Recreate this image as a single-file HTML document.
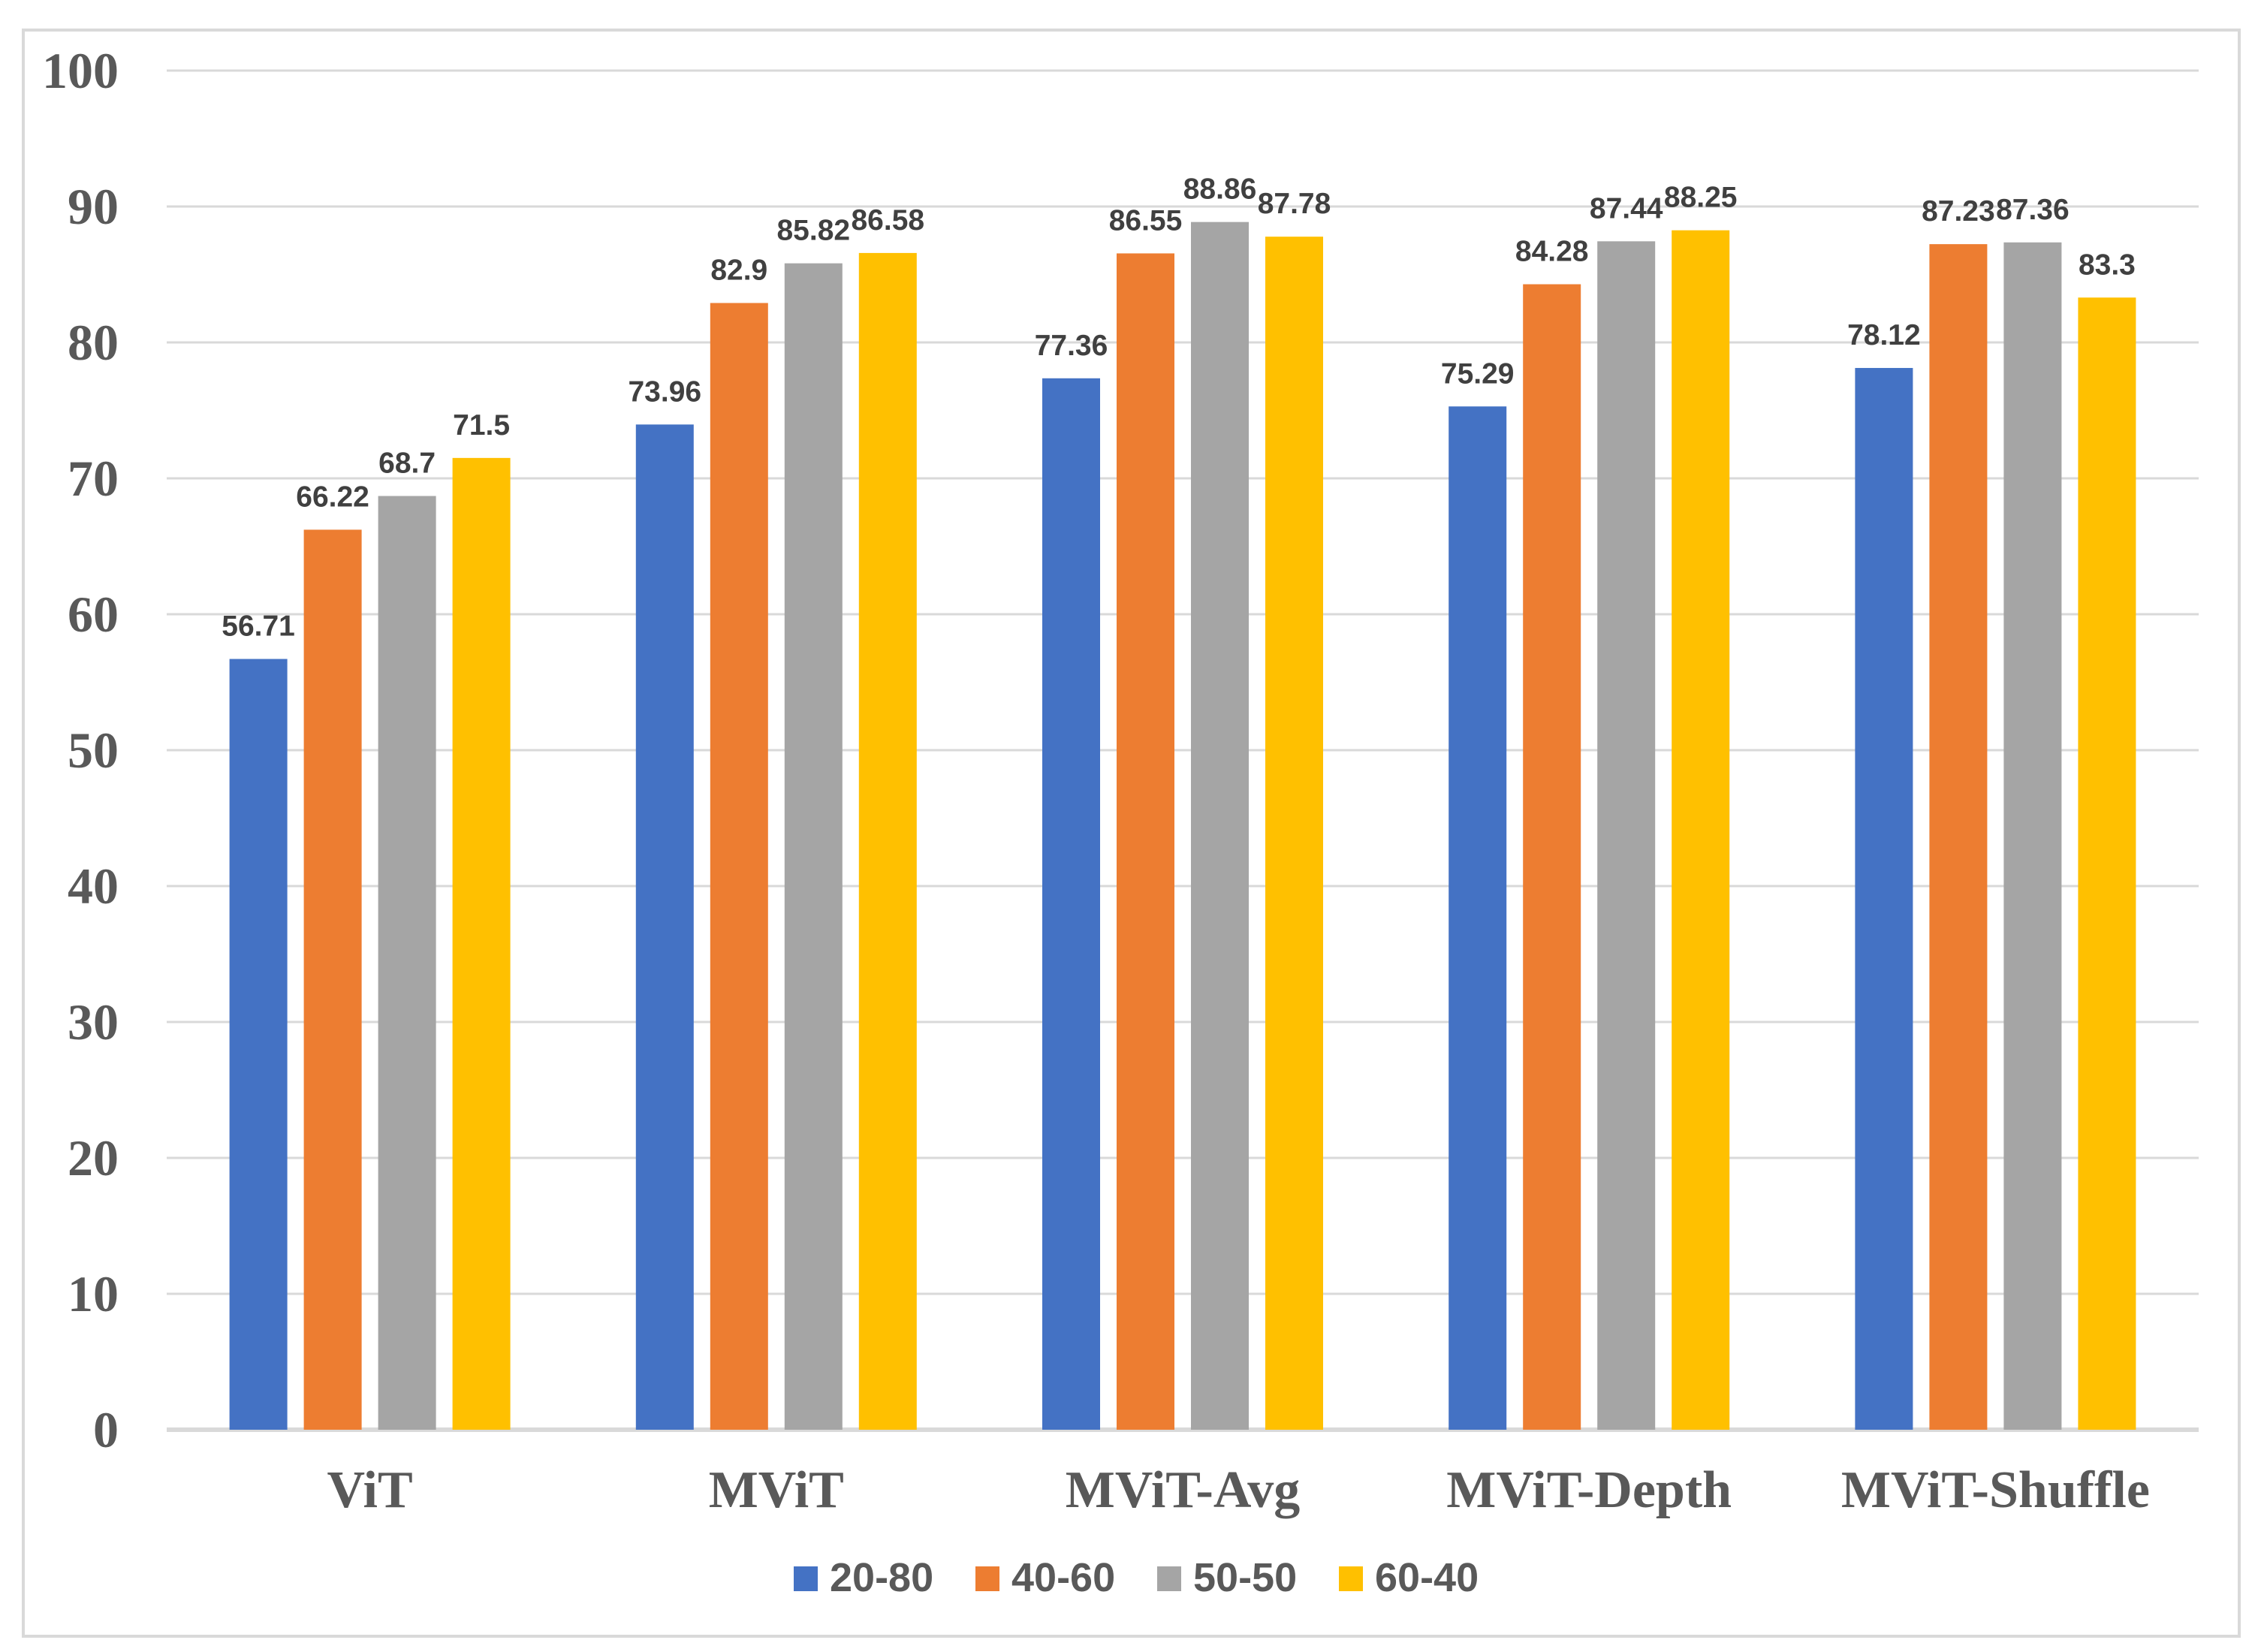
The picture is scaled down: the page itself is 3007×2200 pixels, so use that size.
<!DOCTYPE html>
<html><head><meta charset="utf-8"><style>
html,body{margin:0;padding:0;background:#fff;}
svg{display:block;}
</style></head><body>
<svg id="chart" width="3007" height="2200" viewBox="0 0 3007 2200" xmlns="http://www.w3.org/2000/svg">
<rect x="31" y="40" width="2951" height="2139" fill="#fff" stroke="#d9d9d9" stroke-width="4"/>
<g id="grid"></g><g id="bars"></g><g id="labels"></g><g id="legend"></g>
</svg>
<script>
const categories = ["ViT","MViT","MViT-Avg","MViT-Depth","MViT-Shuffle"];
const seriesNames = ["20-80","40-60","50-50","60-40"];
const s2080 = [56.71,73.96,77.36,75.29,78.12];
const s4060 = [66.22,82.9,86.55,84.28,87.23];
const s5050 = [68.7,85.82,88.86,87.44,87.36];
const s6040 = [71.5,86.58,87.78,88.25,83.3];
const yTicks = [0,10,20,30,40,50,60,70,80,90,100];

const series=[s2080,s4060,s5050,s6040];
const colors=["#4472c4","#ed7d31","#a5a5a5","#ffc000"];
const NS="http://www.w3.org/2000/svg";
const L=222,R=2928,Y0=1904,Y100=94;
const y=v=>Y0-(Y0-Y100)*v/100;
const catW=(R-L)/categories.length;
const bw=77,gap=22,grp=4*bw+3*gap;
const x=(ci,si)=>L+ci*catW+(catW-grp)/2+si*(bw+gap);
function mk(tag,attrs,parent,text){const e=document.createElementNS(NS,tag);for(const k in attrs)e.setAttribute(k,attrs[k]);if(text!==undefined)e.textContent=text;parent.appendChild(e);return e;}
const grid=document.getElementById('grid'),bars=document.getElementById('bars'),labels=document.getElementById('labels'),legend=document.getElementById('legend');
yTicks.forEach(t=>{
  const ln=mk('line',{x1:L,x2:R,y1:y(t),y2:y(t),stroke:'#d9d9d9','stroke-width':t===0?6:3},grid);
  
  
  const tx=mk('text',{x:158,y:y(t)+23,'text-anchor':'end','font-family':'Liberation Serif, serif','font-weight':'bold','font-size':68,fill:'#595959'},grid,String(t));
  
  
});
categories.forEach((c,ci)=>{
  series.forEach((s,si)=>{
    const v=s[ci];
    const r=mk('rect',{x:x(ci,si),y:y(v),width:bw,height:Y0-y(v),fill:colors[si]},bars);
    
    
    const t=mk('text',{x:x(ci,si)+bw/2,y:y(v)-31,'text-anchor':'middle','font-family':'Liberation Sans, sans-serif','font-weight':'bold','font-size':39,fill:'#404040'},labels,String(v));
    
    
  });
  const ct=mk('text',{x:L+ci*catW+catW/2,y:2007,'text-anchor':'middle','font-family':'Liberation Serif, serif','font-weight':'bold','font-size':70,fill:'#595959'},labels,c);
  
  
});
seriesNames.forEach((n,i)=>{
  const lx=1057+i*242;
  const g=mk('g',{},legend);
  
  
  mk('rect',{x:lx,y:2086,width:32,height:33,fill:colors[i]},g);
  mk('text',{x:lx+48,y:2119,'font-family':'Liberation Sans, sans-serif','font-weight':'bold','font-size':54,fill:'#595959'},g,n);
});
</script>
</body></html>
